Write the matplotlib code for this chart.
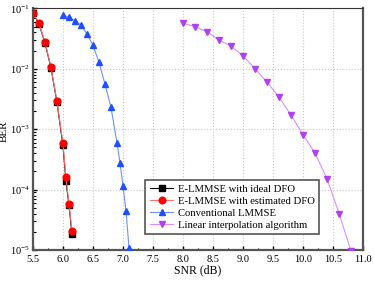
import matplotlib

matplotlib.use("Agg")
import matplotlib.pyplot as plt
from matplotlib.ticker import MultipleLocator, LogLocator, NullFormatter

# ---- data -------------------------------------------------------------------
snr_ideal = [5.5, 5.6, 5.7, 5.8, 5.9, 6.0, 6.05, 6.1, 6.15]
ber_ideal = [0.083, 0.056, 0.027, 0.0105, 0.0028, 5.4e-4, 1.4e-4, 5.6e-5, 1.85e-5]

snr_est = [5.5, 5.6, 5.7, 5.8, 5.9, 6.0, 6.05, 6.1, 6.15]
ber_est = [0.085, 0.057, 0.028, 0.0107, 0.0029, 5.9e-4, 1.6e-4, 5.9e-5, 2.1e-5]

snr_conv = [6.0, 6.1, 6.2, 6.3, 6.4, 6.5, 6.6, 6.7, 6.8, 6.9, 6.95, 7.0, 7.05, 7.1]
ber_conv = [0.079, 0.071, 0.063, 0.053, 0.038, 0.0246, 0.0129, 0.0056, 0.0023,
            6.0e-4, 2.8e-4, 1.17e-4, 4.5e-5, 1.1e-5]

snr_lin = [8.0, 8.2, 8.4, 8.6, 8.8, 9.0, 9.2, 9.4, 9.6, 9.8, 10.0, 10.2, 10.4, 10.6, 10.8]
ber_lin = [0.057, 0.050, 0.041, 0.030, 0.0237, 0.0164, 0.0100, 0.0060, 0.0034,
           0.0017, 8.1e-4, 4.0e-4, 1.5e-4, 4.0e-5, 9.5e-6]

labels = ["E-LMMSE with ideal DFO", "E-LMMSE with estimated DFO",
          "Conventional LMMSE", "Linear interpolation algorithm"]

plt.rcParams["font.family"] = ["Liberation Serif", "DejaVu Serif"]
plt.rcParams["mathtext.fontset"] = "stix"

fig = plt.figure(figsize=(3.74, 2.81), dpi=100)
ax = fig.add_axes([0.088, 0.110, 0.883, 0.860])

ax.semilogy(snr_ideal, ber_ideal, "-s", color="black", lw=0.8, ms=4,
            label=labels[0], zorder=3)
ax.semilogy(snr_est, ber_est, "-o", color="#ff7070", mfc="red", mec="red",
            lw=0.8, ms=4.8, label=labels[1], zorder=4)
ax.semilogy(snr_conv, ber_conv, "-^", color="#7090ff", mfc="#1f4fff", mec="#1f4fff",
            lw=0.8, ms=5, label=labels[2], zorder=3)
ax.semilogy(snr_lin, ber_lin, "-v", color="#d890ff", mfc="#b040f0", mec="#b040f0",
            lw=0.8, ms=5, label=labels[3], zorder=3)

ax.set_xlim(5.5, 11.0)
ax.set_ylim(1e-5, 1e-1)
ax.xaxis.set_major_locator(MultipleLocator(0.5))
ax.xaxis.set_minor_locator(MultipleLocator(0.25))
ax.yaxis.set_major_locator(LogLocator(base=10, numticks=10))
ax.yaxis.set_minor_locator(LogLocator(base=10, subs=range(2, 10), numticks=10))
ax.yaxis.set_minor_formatter(NullFormatter())

ax.grid(True, which="major", ls=":", color="#c8c8c8", lw=0.8)
ax.tick_params(which="both", direction="in", labelsize=7.5, top=False, right=False)
ax.tick_params(which="major", length=3, width=1)
ax.tick_params(axis="y", which="major", pad=2)
ax.tick_params(which="minor", length=1.8, width=0.8)
for side in ["left", "bottom", "right"]:
    ax.spines[side].set_linewidth(1.6)
    ax.spines[side].set_color("#555555")
ax.spines["top"].set_linewidth(0.8)
ax.spines["top"].set_color("#333333")

ax.set_xlabel("SNR (dB)", fontsize=8.5, labelpad=0)
ax.set_ylabel("BER", fontsize=8)
ax.yaxis.set_label_coords(-0.072, 0.49)

leg = ax.legend(loc="lower right", bbox_to_anchor=(0.882, 0.045), fontsize=7.7,
                fancybox=False, framealpha=1, edgecolor="#555555",
                handlelength=2.2, handletextpad=0.4, borderpad=0.4,
                labelspacing=0.22)
leg.get_frame().set_linewidth(1.2)

fig.savefig("out.png", dpi=100)
